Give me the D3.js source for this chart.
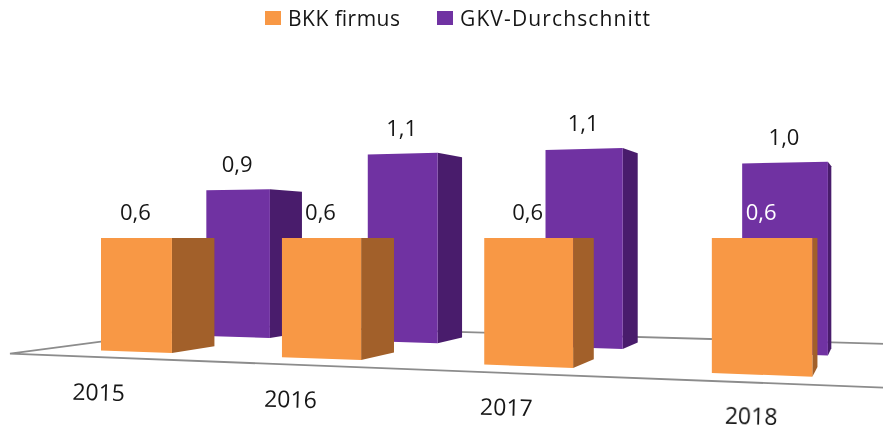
<!DOCTYPE html>
<html>
<head>
<meta charset="utf-8">
<script src="https://cdn.jsdelivr.net/npm/d3@7"></script>
<style>
html,body{margin:0;padding:0;background:#fff;}
svg{display:block;}
text{font-family:"Open Sans",sans-serif;fill:#161616;}
</style>
</head>
<body>
<svg id="chart" width="883" height="432"></svg>
<script>
// ---- data ----
const years = ["2015", "2016", "2017", "2018"];
const seriesNames = ["BKK firmus", "GKV-Durchschnitt"];
const firmus = [0.6, 0.6, 0.6, 0.6];
const gkv = [0.9, 1.1, 1.1, 1.0];
const fmt = v => v.toFixed(1).replace(".", ",");

// ---- perspective camera (floor plane u = along years, z = depth) ----
const W = 883, H = 432;
const eyeY = 238, vanishX = 885, eyeValue = 0.6;
const cam = {x0: 101, xu: 166.1, y0: 350.5, yu: -12.16, wu: -0.0527};
const barWidth = 0.405, barDepth = 0.062;
const seriesPlace = {firmus: {u: 0, z: 0}, gkv: {u: 0.02, z: 0.15}};
const floorZ = [-0.045, 0.27], floorU = [-0.31, 3.95];

const catScale = d3.scaleLinear().domain([0, 1]).range([0, 1]);
const heightScale = d3.scalePow().exponent(0.98).domain([0, eyeValue]).range([0, 1]);
const yearScale = d3.scaleLinear().domain([0, 3]).range([-0.015, 3.16]);

function project(u, z, v = 0) {
  const w = 1 + cam.wu * u + z;
  const x = (cam.x0 + cam.xu * u + vanishX * z) / w;
  const yb = (cam.y0 + cam.yu * u + eyeY * z) / w;
  const y = yb - (yb - eyeY) * heightScale(v);
  return [x, y];
}

const svg = d3.select("#chart");
const root = svg.append("g").attr("filter", "url(#soft)");
svg.append("defs").append("filter").attr("id", "soft")
  .attr("x", 0).attr("y", 0)
  .attr("filterUnits", "userSpaceOnUse").attr("width", W).attr("height", H)
  .append("feGaussianBlur").attr("stdDeviation", 0.55);
root.append("rect").attr("width", W).attr("height", H).attr("fill", "#fff");
const line = d3.line();

// ---- floor ----
root.append("path")
  .attr("d", line([
    project(floorU[1], floorZ[1]),
    project(floorU[0], floorZ[1]),
    project(floorU[0], floorZ[0]),
    project(floorU[1], floorZ[0])
  ]))
  .attr("fill", "#fff").attr("stroke", "#8c8c8c").attr("stroke-width", 1.8);

// ---- bars ----
const colors = {
  firmus: {front: "#F89844", side: "#A26029"},
  gkv: {front: "#7030A2", side: "#4A1E6C"}
};

function drawBars(values, key) {
  const place = seriesPlace[key], c = colors[key];
  const g = root.append("g");
  const item = g.selectAll("g").data(values).join("g");
  const uL = (d, i) => catScale(i) + place.u;
  item.append("path").attr("fill", c.side)
    .attr("d", (d, i) => {
      const u = uL(d, i) + barWidth;
      return line([project(u, place.z, d), project(u, place.z + barDepth, d),
                   project(u, place.z + barDepth, 0), project(u, place.z, 0)]) + "Z";
    });
  item.append("path").attr("fill", c.front)
    .attr("d", (d, i) => {
      const u = uL(d, i);
      return line([project(u, place.z, d), project(u + barWidth, place.z, d),
                   project(u + barWidth, place.z, 0), project(u, place.z, 0)]) + "Z";
    });
}
drawBars(gkv, "gkv");
drawBars(firmus, "firmus");

// ---- value labels ----
function drawLabels(values, key) {
  const place = seriesPlace[key];
  root.append("g").selectAll("text").data(values).join("text")
    .attr("text-anchor", "middle").attr("font-size", 22)
    .attr("x", (d, i) => {
      const u = catScale(i) + place.u;
      return (project(u, place.z, d)[0] + project(u + barWidth, place.z, d)[0]) / 2 - 1;
    })
    .attr("y", (d, i) => project(catScale(i) + place.u + barWidth / 2, place.z, d)[1] - 18)
    .style("fill", (d, i) => key === "firmus" && i === years.length - 1 ? "#fff" : "#161616")
    .text(fmt);
}
drawLabels(gkv, "gkv");
drawLabels(firmus, "firmus");

// ---- category labels ----
root.append("g").selectAll("text").data(years).join("text")
  .attr("text-anchor", "middle").attr("font-size", 23)
  .attr("transform", (d, i) => {
    const p = project(yearScale(i), 0);
    return `translate(${p[0]},${p[1] + 50}) rotate(1.5)`;
  })
  .text(d => d);

// ---- legend ----
const legendX = d3.scaleOrdinal().domain(seriesNames).range([265, 437]);
const legendLen = d3.scaleOrdinal().domain(seriesNames).range([112, 190]);
const legendFill = d3.scaleOrdinal().domain(seriesNames).range([colors.firmus.front, colors.gkv.front]);
const leg = root.append("g").selectAll("g").data(seriesNames).join("g")
  .attr("transform", d => `translate(${legendX(d)},11)`);
leg.append("rect").attr("width", 16).attr("height", 14).attr("fill", d => legendFill(d));
leg.append("text").attr("x", 23).attr("y", 15).attr("font-size", 21)
  .attr("textLength", d => legendLen(d)).attr("lengthAdjust", "spacing").text(d => d);
</script>
</body>
</html>
